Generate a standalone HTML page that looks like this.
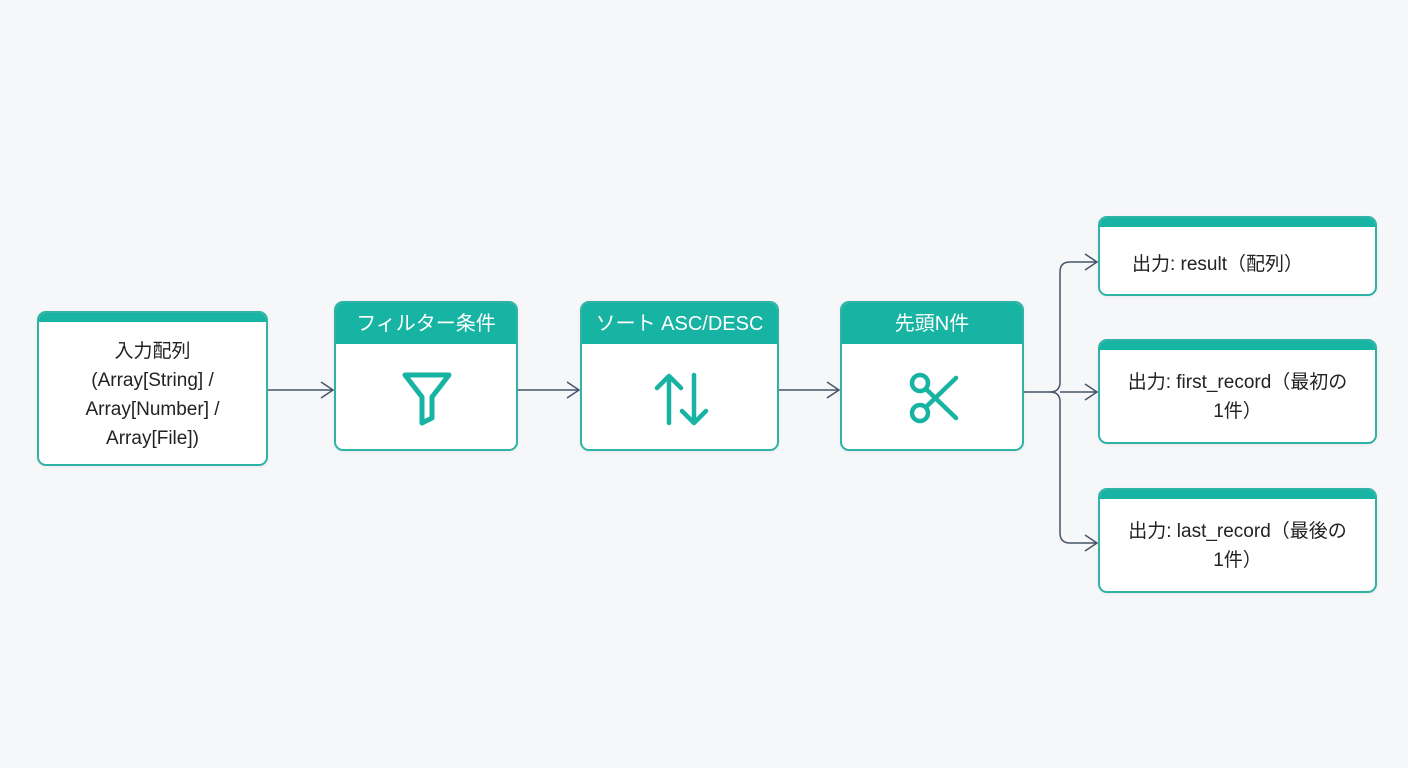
<!DOCTYPE html>
<html><head><meta charset="utf-8"><style>
body{margin:0;width:1408px;height:768px;background:#f6f7f9;font-family:"Liberation Sans","Noto Sans CJK JP",sans-serif;position:relative;overflow:hidden}
.b{position:absolute;background:#fff;border:2px solid #2fb3a5;border-radius:9px;box-sizing:border-box;overflow:hidden;box-shadow:0 1px 3px rgba(0,0,0,.06)}
.strip{position:absolute;left:0;right:0;top:0;height:9px;background:#17b3a3}
.hd{position:absolute;left:0;right:0;top:0;height:41px;background:#17b3a3;color:#fff;font-size:20px;text-align:center;line-height:42px}
.t{position:absolute;left:0;right:0;text-align:center;color:#222;font-size:19px;line-height:29px}
svg{position:absolute;left:0;top:0}
</style></head><body>
<svg width="1408" height="768" style="z-index:0">
<g fill="none" stroke="#475569" stroke-width="1.5">
<path d="M267 390H333M321 382L333 390L321 398"/>
<path d="M517 390H579M567 382L579 390L567 398"/>
<path d="M778 390H839M827 382L839 390L827 398"/>
<path d="M1023 392H1050Q1060 392 1060 382V272Q1060 262 1070 262H1097M1085 254L1097 262L1085 270"/>
<path d="M1050 392Q1060 392 1060 402V533Q1060 543 1070 543H1097M1085 535L1097 543L1085 551"/>
<path d="M1060 392H1097M1085 384L1097 392L1085 400"/>
</g></svg>
<div class="b" style="left:37px;top:311px;width:231px;height:155px"><div class="strip"></div>
<div class="t" style="top:24px">入力配列<br>(Array[String] /<br>Array[Number] /<br>Array[File])</div></div>
<div class="b" style="left:334px;top:301px;width:184px;height:150px"><div class="hd">フィルター条件</div>
<svg width="184" height="150"><path d="M69 72H113L96 94V115L86 120V94Z" fill="none" stroke="#17b3a3" stroke-width="5" stroke-linejoin="round"/></svg></div>
<div class="b" style="left:580px;top:301px;width:199px;height:150px"><div class="hd">ソート ASC/DESC</div>
<svg width="199" height="150"><g fill="none" stroke="#17b3a3" stroke-width="4.5" stroke-linecap="round" stroke-linejoin="round"><path d="M87 120V73M75 85L87 73L99 85"/><path d="M112 72V120M100 108L112 120L124 108"/></g></svg></div>
<div class="b" style="left:840px;top:301px;width:184px;height:150px"><div class="hd">先頭N件</div>
<svg width="184" height="150"><g fill="none" stroke="#17b3a3" stroke-width="4.5" stroke-linecap="round"><circle cx="78" cy="80" r="8"/><circle cx="78" cy="110" r="8"/><path d="M84 86L114 115M84 104L114 75"/></g></svg></div>
<div class="b" style="left:1098px;top:216px;width:279px;height:80px"><div class="strip"></div>
<div class="t" style="top:32px;padding-right:40px">出力: result（配列）</div></div>
<div class="b" style="left:1098px;top:339px;width:279px;height:105px"><div class="strip"></div>
<div class="t" style="top:27px">出力: first_record（最初の<br>1件）</div></div>
<div class="b" style="left:1098px;top:488px;width:279px;height:105px"><div class="strip"></div>
<div class="t" style="top:27px">出力: last_record（最後の<br>1件）</div></div>
</body></html>
